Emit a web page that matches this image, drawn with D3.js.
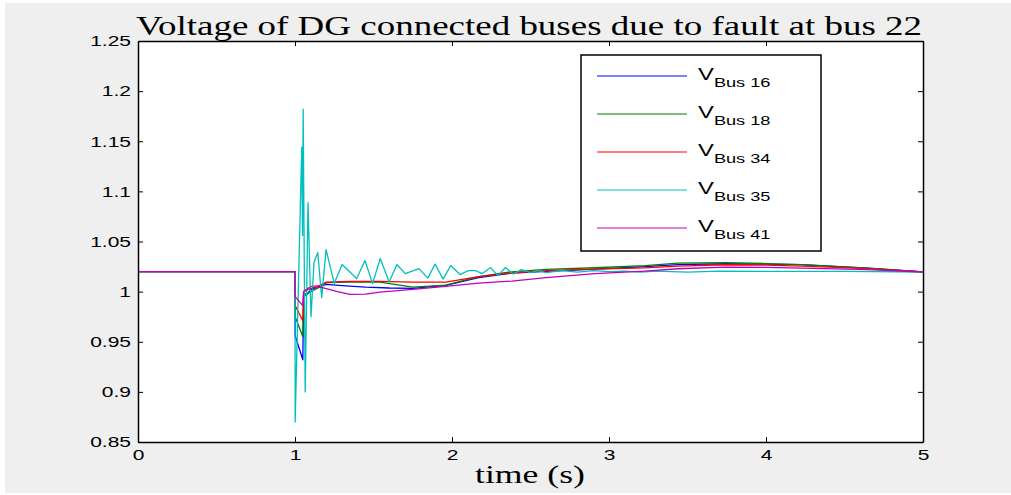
<!DOCTYPE html>
<html>
<head>
<meta charset="utf-8">
<script src="https://cdn.jsdelivr.net/npm/d3@7"></script>
<style>
  html, body { margin: 0; padding: 0; background: #ffffff; }
  svg { display: block; }
</style>
</head>
<body>
<script>
// chart data
var seriesNames = ["Bus 16", "Bus 18", "Bus 34", "Bus 35", "Bus 41"];
var seriesColors = ["#0000ff", "#008000", "#ff0000", "#00bfbf", "#bf00bf"];

var tBus16 = [0, 1.0, 1.001, 1.05, 1.055, 1.07, 1.1, 1.15, 1.2, 1.3, 1.45, 1.6, 1.75, 1.96, 2.17, 2.38, 2.6, 2.91, 3.23, 3.44, 3.74, 4.0, 4.225, 4.65, 5];
var vBus16 = [1.02, 1.02, 0.956, 0.932, 1.0, 0.996, 1.002, 1.005, 1.0072, 1.006, 1.0045, 1.0036, 1.0033, 1.0062, 1.0139, 1.0185, 1.0202, 1.0225, 1.025, 1.027, 1.0278, 1.0275, 1.027, 1.0235, 1.0196];

var tBus18 = [0, 1.0, 1.001, 1.05, 1.055, 1.07, 1.1, 1.156, 1.2, 1.35, 1.54, 1.75, 1.96, 2.17, 2.38, 2.6, 2.91, 3.23, 3.44, 3.74, 4.0, 4.225, 4.65, 5];
var vBus18 = [1.02, 1.02, 0.975, 0.955, 0.998, 0.997, 1.0, 1.0045, 1.009, 1.0095, 1.0095, 1.0045, 1.0065, 1.015, 1.0198, 1.0221, 1.0238, 1.026, 1.0285, 1.029, 1.028, 1.027, 1.0235, 1.0196];

var tBus34 = [0, 1.0, 1.001, 1.05, 1.055, 1.08, 1.1, 1.156, 1.2, 1.35, 1.54, 1.75, 1.96, 2.17, 2.38, 2.6, 2.91, 3.23, 3.44, 3.74, 4.0, 4.225, 4.65, 5];
var vBus34 = [1.02, 1.02, 0.986, 0.971, 1.0, 1.003, 1.005, 1.006, 1.0095, 1.0103, 1.0102, 1.0095, 1.0095, 1.015, 1.0186, 1.021, 1.0225, 1.0237, 1.0255, 1.0268, 1.0265, 1.0255, 1.023, 1.0196];

var tBus35 = [0, 1.0, 1.001, 1.043, 1.048, 1.052, 1.065, 1.083, 1.102, 1.121, 1.145, 1.17, 1.198, 1.25, 1.30, 1.393, 1.446, 1.494, 1.543, 1.6, 1.649, 1.702, 1.79, 1.846, 1.892, 1.943, 1.992, 2.051, 2.104, 2.15, 2.193, 2.246, 2.292, 2.341, 2.389, 2.443, 2.5, 2.55, 2.6, 2.7, 2.8, 2.9, 3.0, 3.1, 3.2, 3.3, 3.5, 3.7, 4.0, 4.5, 5];
var vBus35 = [1.02, 1.02, 0.87, 1.144, 1.056, 1.182, 0.90, 1.089, 0.975, 1.029, 1.039, 0.994, 1.042, 1.008, 1.027, 1.013, 1.031, 1.008, 1.033, 1.0095, 1.027, 1.018, 1.023, 1.0135, 1.0275, 1.0125, 1.026, 1.017, 1.021, 1.021, 1.018, 1.024, 1.016, 1.024, 1.0175, 1.022, 1.019, 1.021, 1.019, 1.021, 1.0195, 1.021, 1.02, 1.0205, 1.0195, 1.0205, 1.0195, 1.0205, 1.0202, 1.0202, 1.0196];

var tBus41 = [0, 1.0, 1.001, 1.05, 1.055, 1.08, 1.12, 1.16, 1.2, 1.27, 1.35, 1.45, 1.54, 1.75, 1.96, 2.17, 2.38, 2.6, 2.91, 3.23, 3.44, 3.74, 4.0, 4.225, 4.65, 5];
var vBus41 = [1.02, 1.02, 0.995, 0.986, 1.0, 1.002, 1.004, 1.0045, 1.003, 1.0, 0.9973, 0.9975, 0.9996, 1.0022, 1.0052, 1.0085, 1.0105, 1.014, 1.018, 1.0205, 1.0228, 1.0244, 1.0242, 1.0235, 1.022, 1.0196];

var xTicks = [0, 1, 2, 3, 4, 5];
var yTicks = [0.85, 0.9, 0.95, 1, 1.05, 1.1, 1.15, 1.2, 1.25];
var yTickLabels = ["0.85", "0.9", "0.95", "1", "1.05", "1.1", "1.15", "1.2", "1.25"];

var times = [tBus16, tBus18, tBus34, tBus35, tBus41];
var values = [vBus16, vBus18, vBus34, vBus35, vBus41];

var W = 1011, H = 495;
var plot = { left: 138, right: 923, top: 41, bottom: 442 };
var stretch = 1.4; // the picture's text is wider than normal

var svg = d3.select("body").append("svg")
    .attr("width", W)
    .attr("height", H);

// figure background
svg.append("rect")
    .attr("x", 5).attr("y", 3)
    .attr("width", W - 5).attr("height", H - 5)
    .attr("fill", "#efefef");

svg.append("rect")
    .attr("x", plot.left).attr("y", plot.top)
    .attr("width", plot.right - plot.left).attr("height", plot.bottom - plot.top)
    .attr("fill", "#ffffff");

var x = d3.scaleLinear([0, 5], [plot.left, plot.right]);
var y = d3.scaleLinear([0.85, 1.25], [plot.bottom, plot.top]);

var line = d3.line()
    .x(d => x(d[0]))
    .y(d => y(d[1]));

var lines = svg.append("g");
seriesNames.forEach(function (name, i) {
    var pts = times[i].map((t, j) => [t, values[i][j]]);
    lines.append("path")
        .datum(pts)
        .attr("d", line)
        .attr("fill", "none")
        .attr("stroke", seriesColors[i])
        .attr("stroke-width", 1.3)
        .attr("stroke-linejoin", "round");
});

// axes, MATLAB style: ticks inside on all four sides
function styleAxis(g) {
    g.select(".domain").attr("stroke", "#000").attr("stroke-width", 1.5);
    g.selectAll(".tick line").attr("stroke", "#000").attr("stroke-width", 1);
    g.selectAll(".tick text")
        .attr("fill", "#000")
        .style("font-family", "'Liberation Sans', Arial, sans-serif")
        .style("font-size", "15px");
}

svg.append("g")
    .attr("transform", `translate(0, ${plot.bottom})`)
    .call(d3.axisBottom(x).tickValues(xTicks).tickFormat(d3.format("d"))
        .tickSizeInner(-5).tickSizeOuter(0).tickPadding(7))
    .call(styleAxis)
    .call(g => g.selectAll(".tick text").attr("transform", `scale(${stretch},1)`));

svg.append("g")
    .attr("transform", `translate(0, ${plot.top})`)
    .call(d3.axisTop(x).tickValues(xTicks).tickFormat("")
        .tickSizeInner(-5).tickSizeOuter(0))
    .call(styleAxis);

svg.append("g")
    .attr("transform", `translate(${plot.left}, 0)`)
    .call(d3.axisLeft(y).tickValues(yTicks).tickFormat((d, i) => yTickLabels[i])
        .tickSizeInner(-5).tickSizeOuter(0).tickPadding(7))
    .call(styleAxis)
    .call(g => g.selectAll(".tick text")
        .attr("x", -7 / stretch)
        .attr("transform", `scale(${stretch},1)`));

svg.append("g")
    .attr("transform", `translate(${plot.right}, 0)`)
    .call(d3.axisRight(y).tickValues(yTicks).tickFormat("")
        .tickSizeInner(-5).tickSizeOuter(0))
    .call(styleAxis);

// title and axis label
svg.append("text")
    .attr("x", 136).attr("y", 35)
    .attr("textLength", 786)
    .attr("lengthAdjust", "spacingAndGlyphs")
    .style("font-family", "'Liberation Serif', 'Times New Roman', serif")
    .style("font-size", "28px")
    .text("Voltage of DG connected buses due to fault at bus 22");

svg.append("text")
    .attr("x", 475).attr("y", 483)
    .attr("textLength", 110)
    .attr("lengthAdjust", "spacingAndGlyphs")
    .style("font-family", "'Liberation Serif', 'Times New Roman', serif")
    .style("font-size", "26px")
    .text("time (s)");

// legend
var legend = svg.append("g");
legend.append("rect")
    .attr("x", 581).attr("y", 55)
    .attr("width", 240).attr("height", 196)
    .attr("fill", "#ffffff")
    .attr("stroke", "#000")
    .attr("stroke-width", 1.5);

seriesNames.forEach(function (name, i) {
    var ly = 76 + i * 38;
    legend.append("line")
        .attr("x1", 597).attr("x2", 687)
        .attr("y1", ly).attr("y2", ly)
        .attr("stroke", seriesColors[i])
        .attr("stroke-width", 1.2);
    var t = legend.append("text")
        .attr("transform", `translate(698, ${ly + 4}) scale(${stretch},1)`)
        .style("font-family", "'Liberation Sans', Arial, sans-serif")
        .attr("fill", "#000");
    t.append("tspan").style("font-size", "17px").text("V");
    t.append("tspan").attr("dy", 7).style("font-size", "13px").text(name);
});
</script>
</body>
</html>
